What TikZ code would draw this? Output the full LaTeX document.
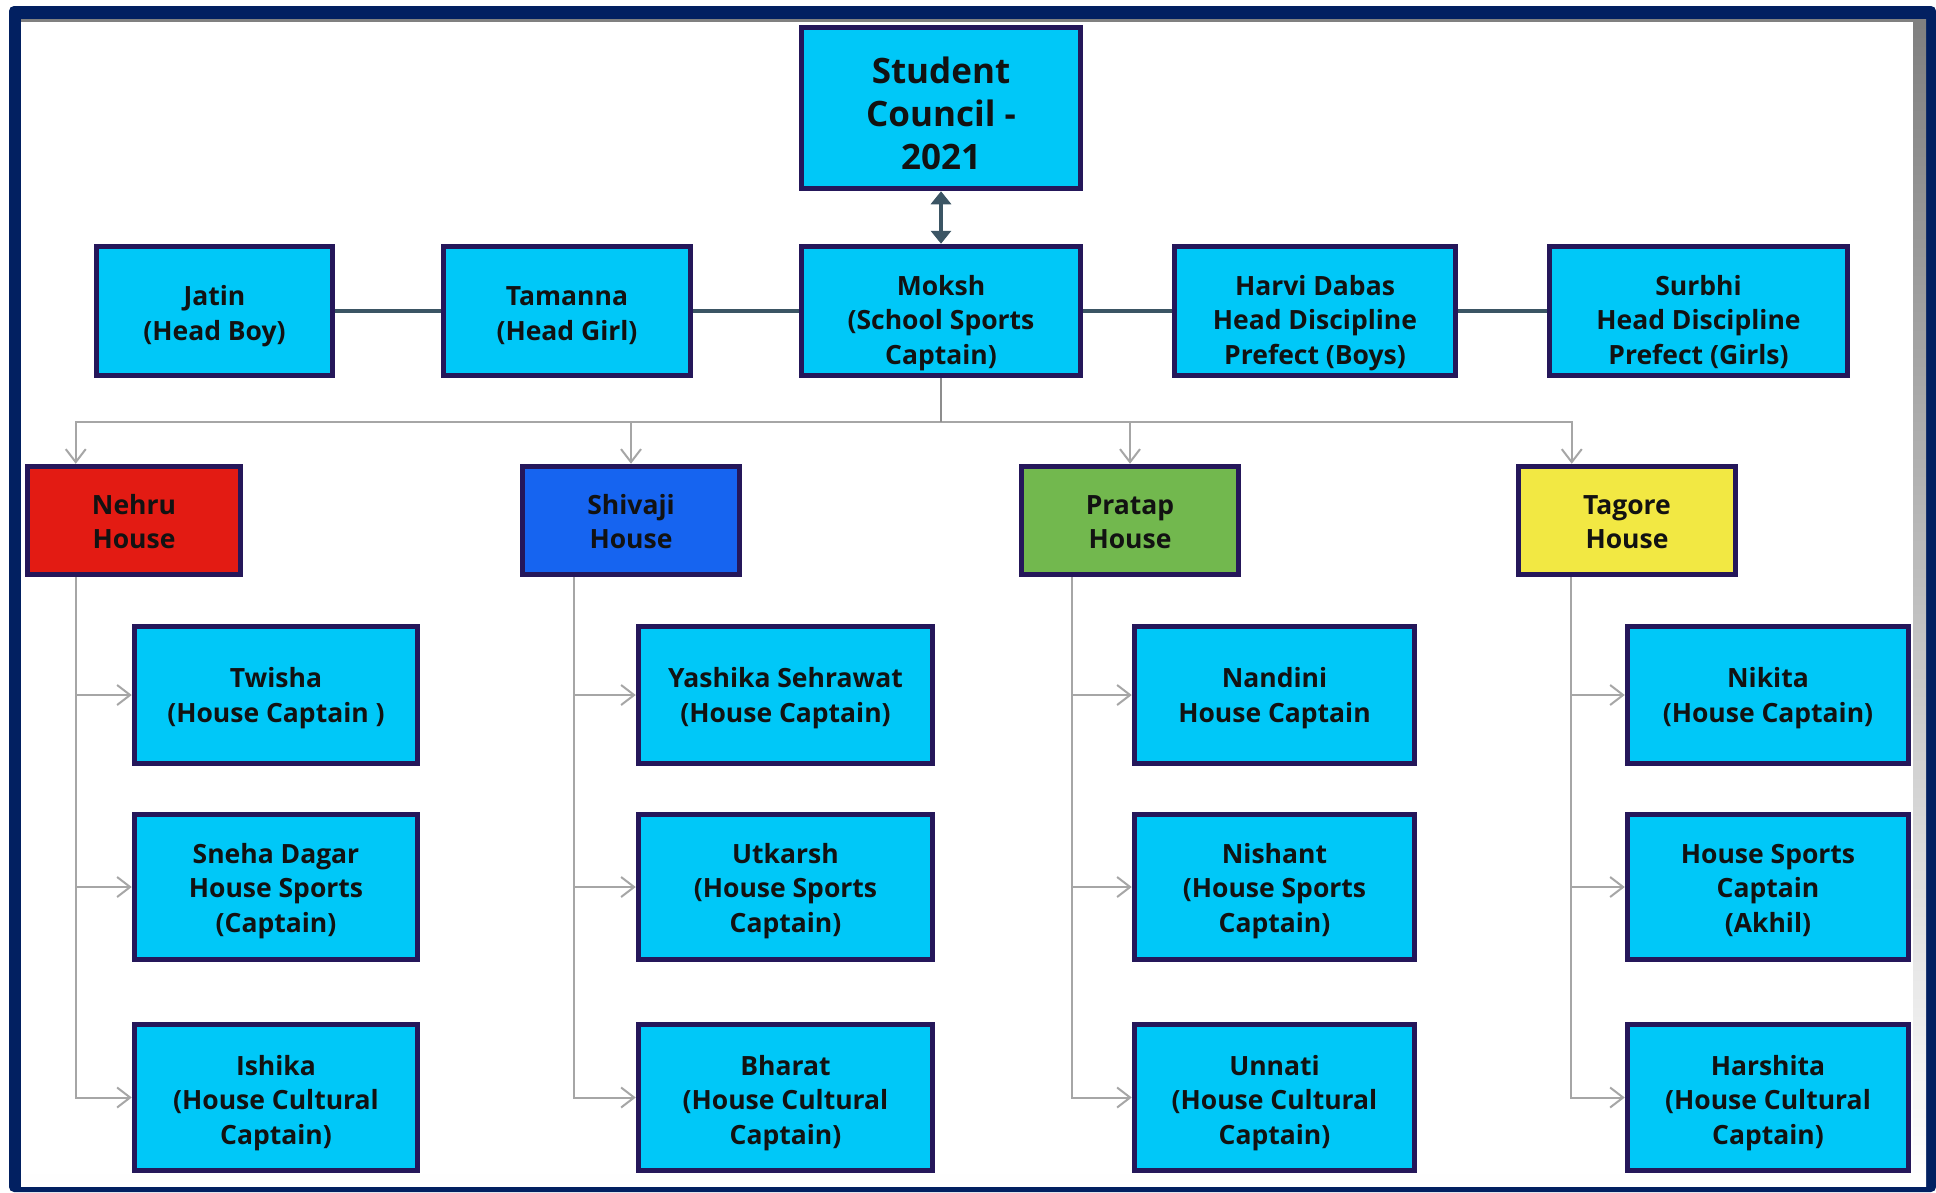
\documentclass[tikz,border=0pt]{standalone}
\usepackage{fontspec}
\setmainfont{Open Sans}
\usetikzlibrary{arrows.meta,calc}
\definecolor{navy}{RGB}{2,32,97}
\definecolor{cyanbox}{RGB}{0,200,248}
\definecolor{boxline}{RGB}{37,23,90}
\definecolor{housered}{RGB}{227,27,19}
\definecolor{houseblue}{RGB}{22,100,240}
\definecolor{housegreen}{RGB}{114,184,78}
\definecolor{houseyellow}{RGB}{242,232,67}
\definecolor{treegrey}{RGB}{166,166,166}
\definecolor{slate}{RGB}{59,85,100}
\definecolor{shade}{RGB}{235,235,235}
\newcommand{\tx}[2]{\raisebox{-#1pt}[\height][\depth]{\begin{tabular}{@{}c@{}}#2\end{tabular}}}
\begin{document}
\begin{tikzpicture}[x=1pt,y=-1pt,
  box/.style={draw=boxline, line width=5.5pt, fill=cyanbox,
    font=\bfseries\fontsize{26.5}{34.5}\selectfont, text=black!93, inner sep=0pt},
  sz/.style 2 args={minimum width=#1pt, minimum height=#2pt},
  tree/.style={draw=treegrey, line width=2pt, -{Straight Barb[length=13pt,width=20pt,line width=2pt]}},
  bus/.style={draw=treegrey!85!black, line width=2.5pt},
  rowline/.style={draw=slate, line width=4pt},
  dbl/.style={draw=slate, line width=4.5pt, {Triangle[length=13pt,width=20pt]}-{Triangle[length=13pt,width=20pt]}}]
\useasboundingbox (0,0) rectangle (1936,1192);
% frame
\fill[navy, rounded corners=5pt] (9,6) rectangle (1936,1192);
\fill[shade] (21,19) rectangle (1926,1186);
\fill[white] (21,22) rectangle (1913,1174);

% top
\node[box, sz={279}{161}, font=\bfseries\fontsize{35}{43}\selectfont] (sc) at (941,108) {\tx{10}{Student\\Council -\\2021}};
% row 2
\node[box, sz={236}{129}] (jatin) at (214.5,311) {\tx{5}{Jatin\\(Head Boy)}};
\node[box, sz={247}{129}] (tamanna) at (567,311) {\tx{5}{Tamanna\\(Head Girl)}};
\node[box, sz={279}{129}] (moksh) at (941,311) {\tx{12}{Moksh\\(School Sports\\Captain)}};
\node[box, sz={281}{129}] (harvi) at (1315,311) {\tx{12}{Harvi Dabas\\Head Discipline\\Prefect (Boys)}};
\node[box, sz={298}{129}] (surbhi) at (1698.5,311) {\tx{12}{Surbhi\\Head Discipline\\Prefect (Girls)}};
% houses
\node[box, sz={213}{108}, fill=housered] (nehru) at (134,520.5) {\tx{4}{Nehru\\House}};
\node[box, sz={217}{108}, fill=houseblue] (shivaji) at (631,520.5) {\tx{4}{Shivaji\\House}};
\node[box, sz={217}{108}, fill=housegreen] (pratap) at (1130,520.5) {\tx{4}{Pratap\\House}};
\node[box, sz={217}{108}, fill=houseyellow] (tagore) at (1627,520.5) {\tx{4}{Tagore\\House}};
% Nehru kids
\node[box, sz={283}{137}] (n1) at (276,695) {\tx{3}{Twisha\\(House Captain )}};
\node[box, sz={283}{145}] (n2) at (276,887) {\tx{4}{Sneha Dagar\\House Sports\\(Captain)}};
\node[box, sz={283}{146}] (n3) at (276,1097.5) {\tx{5.5}{Ishika\\(House Cultural\\Captain)}};
% Shivaji kids
\node[box, sz={294}{137}] (s1) at (785.5,695) {\tx{3}{Yashika Sehrawat\\(House Captain)}};
\node[box, sz={294}{145}] (s2) at (785.5,887) {\tx{4}{Utkarsh\\(House Sports\\Captain)}};
\node[box, sz={294}{146}] (s3) at (785.5,1097.5) {\tx{5.5}{Bharat\\(House Cultural\\Captain)}};
% Pratap kids
\node[box, sz={280}{137}] (p1) at (1274.5,695) {\tx{3}{Nandini\\House Captain}};
\node[box, sz={280}{145}] (p2) at (1274.5,887) {\tx{4}{Nishant\\(House Sports\\Captain)}};
\node[box, sz={280}{146}] (p3) at (1274.5,1097.5) {\tx{5.5}{Unnati\\(House Cultural\\Captain)}};
% Tagore kids
\node[box, sz={281}{137}] (t1) at (1768,695) {\tx{3}{Nikita\\(House Captain)}};
\node[box, sz={281}{145}] (t2) at (1768,887) {\tx{4}{House Sports\\Captain\\(Akhil)}};
\node[box, sz={281}{146}] (t3) at (1768,1097.5) {\tx{5.5}{Harshita\\(House Cultural\\Captain)}};

% connectors
\draw[dbl] (sc.south) -- (moksh.north);
\draw[rowline] (jatin.east) -- (tamanna.west);
\draw[rowline] (tamanna.east) -- (moksh.west);
\draw[rowline] (moksh.east) -- (harvi.west);
\draw[rowline] (harvi.east) -- (surbhi.west);

\coordinate (busy) at ($(moksh.south)+(0,44)$);
\draw[tree] (busy) -| ($(nehru.north west)+(51,0)$);
\draw[tree] (busy) -| (shivaji.north);
\draw[tree] (busy) -| (pratap.north);
\draw[tree] (busy) -| ($(tagore.north west)+(56,0)$);
\draw[bus] (moksh.south) -- (busy);

\foreach \h/\k/\dx in {nehru/n/51, shivaji/s/54, pratap/p/53, tagore/t/55}{
  \foreach \i in {1,2,3}{
    \draw[tree] ($(\h.south west)+(\dx,0)$) |- (\k\i.west);
  }
}
\end{tikzpicture}
\end{document}
